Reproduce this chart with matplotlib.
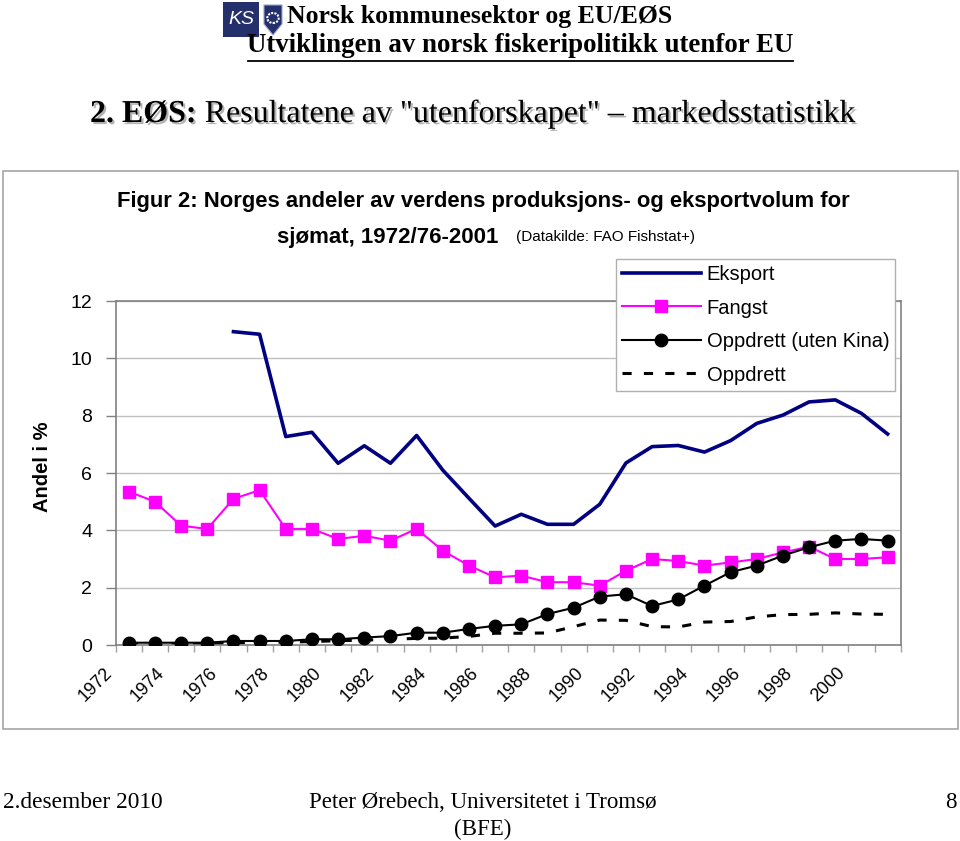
import numpy as np
import matplotlib
matplotlib.use("Agg")
import matplotlib.pyplot as plt
import matplotlib.patheffects as pe
from matplotlib.patches import Rectangle, Polygon, Circle
from matplotlib.transforms import ScaledTranslation

# ── data (share in %)
YEARS = list(range(1972, 2002))
EKSPORT = [np.nan, np.nan, np.nan, np.nan, 10.93, 10.84, 7.27, 7.42, 6.34, 6.95,
           6.34, 7.31, 6.10, 5.12, 4.15, 4.56, 4.21, 4.21, 4.91, 6.35,
           6.92, 6.96, 6.73, 7.13, 7.73, 8.02, 8.48, 8.55, 8.08, 7.36]
FANGST = [5.35, 5.00, 4.16, 4.05, 5.10, 5.40, 4.05, 4.05, 3.70, 3.81,
          3.64, 4.05, 3.29, 2.77, 2.36, 2.42, 2.19, 2.19, 2.07, 2.59,
          3.00, 2.93, 2.77, 2.88, 3.00, 3.23, 3.43, 3.00, 3.00, 3.06]
OPPDRETT_UK = [0.08, 0.08, 0.08, 0.08, 0.14, 0.14, 0.14, 0.20, 0.20, 0.26,
               0.31, 0.43, 0.43, 0.56, 0.67, 0.72, 1.08, 1.30, 1.69, 1.77,
               1.36, 1.59, 2.07, 2.54, 2.77, 3.12, 3.41, 3.64, 3.70, 3.64]
OPPDRETT = [0.03, 0.03, 0.04, 0.05, 0.07, 0.09, 0.10, 0.12, 0.15, 0.17,
            0.20, 0.23, 0.24, 0.30, 0.41, 0.41, 0.42, 0.64, 0.87, 0.86,
            0.64, 0.63, 0.80, 0.82, 0.98, 1.06, 1.07, 1.12, 1.08, 1.07]
LABELS = ["Eksport", "Fangst", "Oppdrett (uten Kina)", "Oppdrett"]
YTICKS = [0, 2, 4, 6, 8, 10, 12]

W, H = 960, 841
SERIF = ["Liberation Serif", "DejaVu Serif"]
SANS = ["Liberation Sans", "DejaVu Sans"]


def fx(px):
    return px / W


def fy(py):
    return 1 - py / H


fig = plt.figure(figsize=(W / 100, H / 100), dpi=100)

# ── slide header
logo_blue = "#23306b"
fig.patches.append(Rectangle((fx(223), fy(37)), fx(36), 35 / H, transform=fig.transFigure,
                             facecolor=logo_blue, edgecolor="none"))
fig.text(fx(241), fy(19), "KS", color="white", fontsize=14, style="italic",
         family=SANS, ha="center", va="center")
shield = Polygon([(fx(264), fy(5)), (fx(282), fy(5)), (fx(282), fy(24)),
                  (fx(273), fy(35)), (fx(264), fy(24))], closed=True,
                 transform=fig.transFigure, facecolor=logo_blue, edgecolor="#9aa3c8", lw=0.8)
fig.patches.append(shield)
fig.patches.append(Circle((fx(273), fy(18)), 5 / H, transform=fig.transFigure,
                          facecolor="none", edgecolor="white", lw=1.5, linestyle=(0, (1, 0.6))))

fig.text(fx(287), fy(16), "Norsk kommunesektor og EU/EØS", family=SERIF, fontweight="bold",
         fontsize=18.5, ha="left", va="center")
fig.text(fx(520), fy(45), "Utviklingen av norsk fiskeripolitikk utenfor EU", family=SERIF,
         fontweight="bold", fontsize=19.4, ha="center", va="center")
fig.add_artist(plt.Line2D([fx(248), fx(793)], [fy(61), fy(61)], color="black", lw=1.3))

# slide title with a soft shadow
shadow = [pe.withSimplePatchShadow(offset=(1.5, -1.5), shadow_rgbFace="#808080", alpha=0.6)]
t1 = fig.text(fx(90), fy(122), "2. EØS:", family=SERIF, fontweight="bold",
              fontsize=23, ha="left", va="baseline", path_effects=shadow)
fig.add_artist(plt.Annotation(' Resultatene av "utenforskapet" – markedsstatistikk',
                              xy=(1, 0), xycoords=t1, va="bottom", ha="left",
                              family=SERIF, fontsize=23, path_effects=shadow))

# ── chart frame
frame = Rectangle((fx(3), fy(729)), fx(955), (729 - 171) / H, transform=fig.transFigure,
                  facecolor="none", edgecolor="#a6a6a6", lw=1.2)
fig.patches.append(frame)

fig.text(fx(483), fy(201), "Figur 2: Norges andeler av verdens produksjons- og eksportvolum for",
         family=SANS, fontweight="bold", fontsize=15.8, ha="center", va="center")
fig.text(fx(498), fy(237), "sjømat, 1972/76-2001", family=SANS, fontweight="bold",
         fontsize=16, ha="right", va="center")
fig.text(fx(516), fy(237), "(Datakilde: FAO Fishstat+)", family=SANS, fontsize=11,
         ha="left", va="center")

# ── plot area
ax = fig.add_axes([fx(115.7), fy(645), 785 / W, 344 / H])
x = np.arange(len(YEARS))
ax.plot(x, EKSPORT, color="#000080", lw=2.6, label=LABELS[0], zorder=4)
ax.plot(x, FANGST, color="#ff00ff", lw=1.5, marker="s", ms=8, label=LABELS[1], zorder=3)
ax.plot(x, OPPDRETT_UK, color="black", lw=1.5, marker="o", ms=9, label=LABELS[2], zorder=3)
ax.plot(x, OPPDRETT, color="black", lw=2.2, linestyle=(0, (3, 4)), label=LABELS[3], zorder=2)

ax.set_xlim(-0.5, len(YEARS) - 0.5)
ax.set_ylim(0, 12)
ax.set_yticks(YTICKS)
ax.set_yticklabels([str(v) for v in YTICKS], family=SANS, fontsize=14)
ax.tick_params(axis="y", length=7, width=1, color="#808080", pad=10)
ax.yaxis.grid(True, color="#c0c0c0", lw=1)
ax.set_axisbelow(True)

ax.set_xticks(x[::2])
ax.set_xticklabels([str(y) for y in YEARS[::2]], family=SANS, fontsize=13,
                   rotation=45, ha="right", va="top")
ax.set_xticks(np.arange(-0.5, len(YEARS)), minor=True)
ax.tick_params(axis="x", which="major", length=0, pad=14)
ax.tick_params(axis="x", which="minor", length=5, width=1, color="#a0a0a0")
shift = ScaledTranslation(-13 / 100, 0, fig.dpi_scale_trans)
for lab in ax.get_xticklabels():
    lab.set_transform(lab.get_transform() + shift)

for sp in ax.spines.values():
    sp.set_color("#808080")
    sp.set_linewidth(1.2)

fig.text(fx(42), fy(467), "Andel i %", family=SANS, fontweight="bold", fontsize=14.5,
         rotation=90, ha="center", va="center")

leg = ax.legend(loc="upper left", bbox_to_anchor=(fx(616), fy(259)), bbox_transform=fig.transFigure,
                prop={"family": SANS, "size": 14.5}, frameon=True, fancybox=False,
                edgecolor="#b0b0b0", framealpha=1, borderaxespad=0, borderpad=0.3,
                handlelength=3.9, handletextpad=0.3, labelspacing=0.72)
leg.get_frame().set_linewidth(1)
leg.set_zorder(10)

# ── footer
fig.text(fx(3), fy(802), "2.desember 2010", family=SERIF, fontsize=16.8, ha="left", va="center")
fig.text(fx(483), fy(802), "Peter Ørebech, Universitetet i Tromsø", family=SERIF, fontsize=16.5,
         ha="center", va="center")
fig.text(fx(483), fy(829), "(BFE)", family=SERIF, fontsize=16.5, ha="center", va="center")
fig.text(fx(957), fy(802), "8", family=SERIF, fontsize=16.5, ha="right", va="center")

fig.savefig("out.png", dpi=100)
